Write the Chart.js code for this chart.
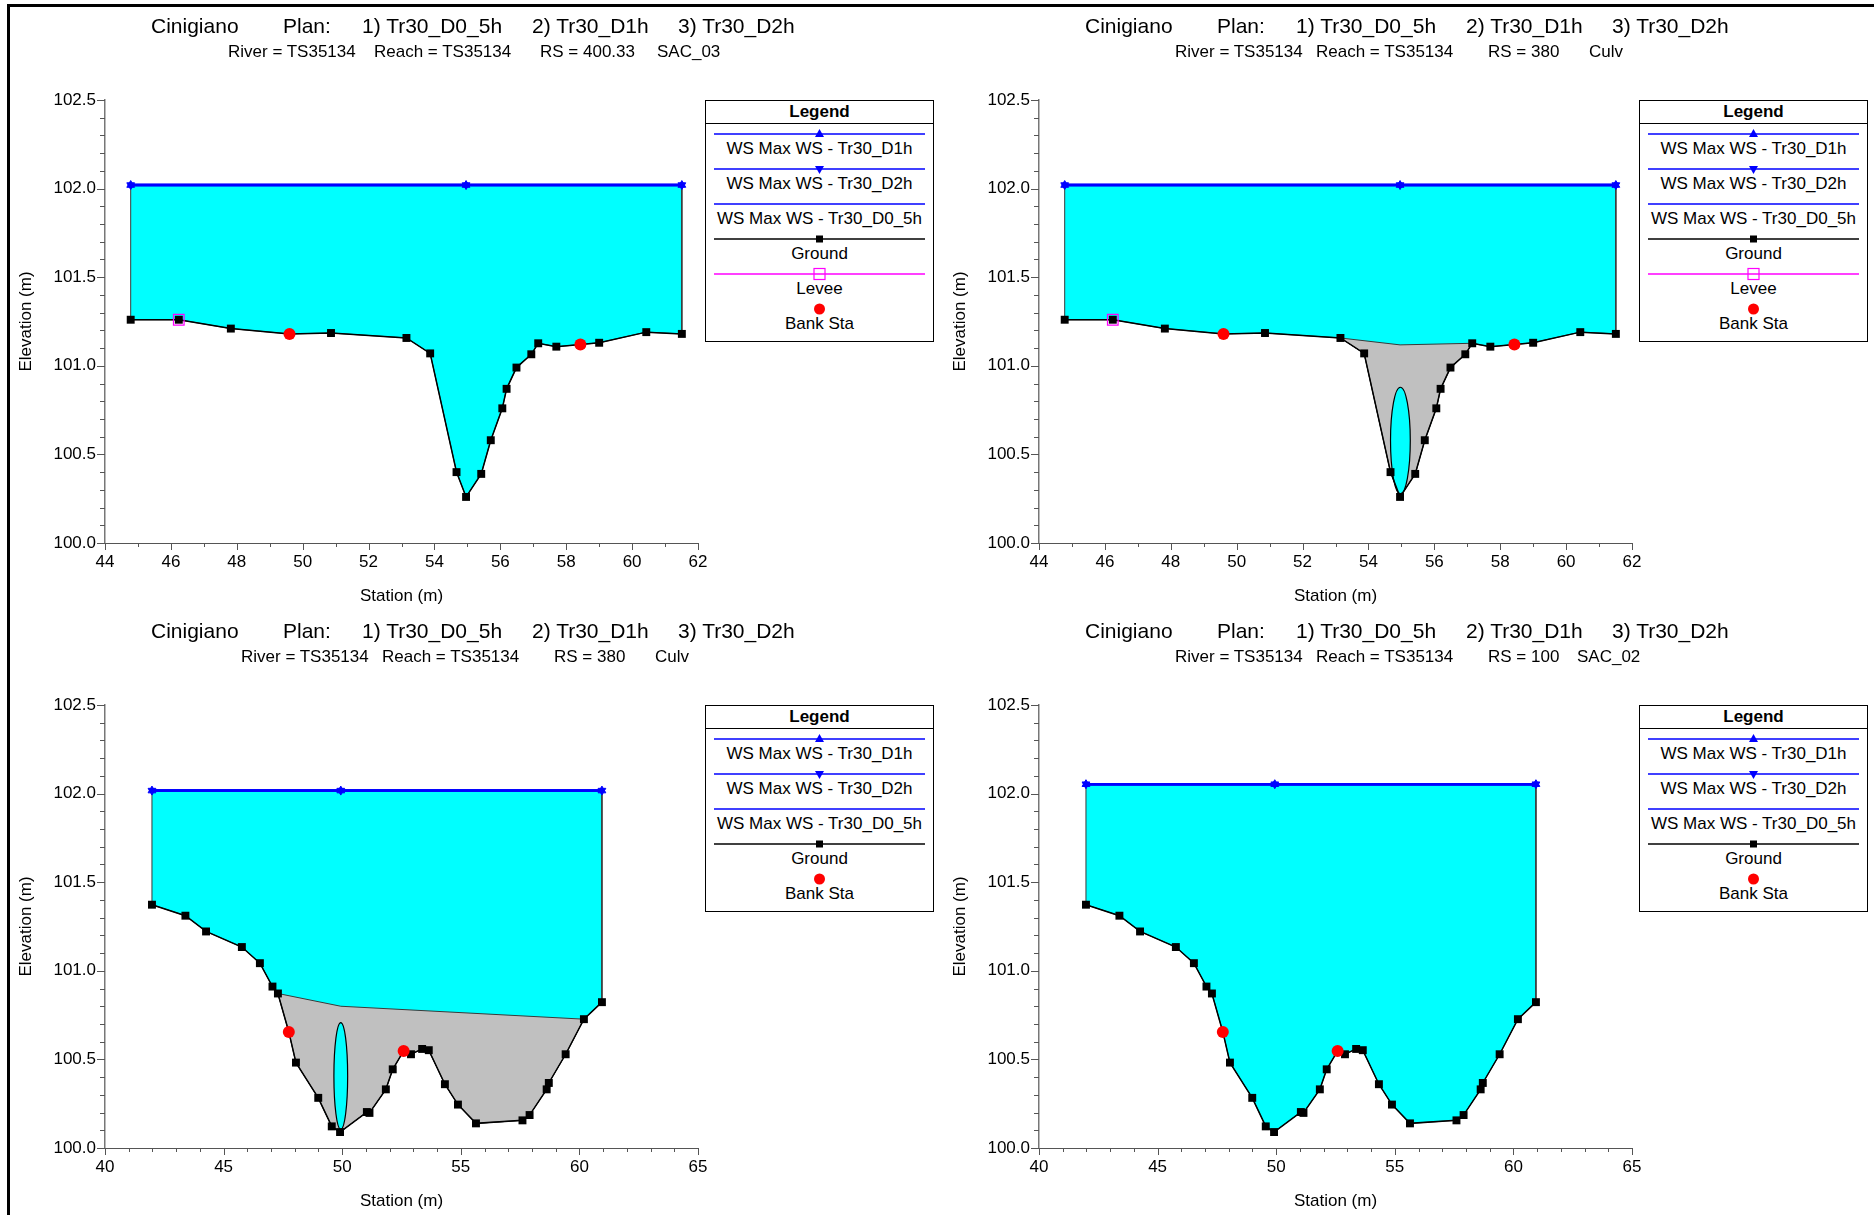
<!DOCTYPE html>
<html>
<head>
<meta charset="utf-8">
<script src="https://cdn.jsdelivr.net/npm/chart.js@4.4.1/dist/chart.umd.min.js"></script>
<style>
html,body{margin:0;padding:0;background:#fff;width:1874px;height:1215px;overflow:hidden;font-family:"Liberation Sans",Arial,sans-serif;color:#000;}
.frame{position:absolute;left:7px;top:4px;width:1900px;height:1300px;border-top:3px solid #000;border-left:3px solid #000;pointer-events:none;}
.panel{position:absolute;width:937px;height:607px;}
.panel canvas{position:absolute;left:0;top:0;}
.t{position:absolute;white-space:pre;font-size:21px;line-height:24px;top:14px;}
.s{position:absolute;white-space:pre;font-size:17px;line-height:20px;top:42px;}
.legend{position:absolute;border:1px solid #000;background:#fff;box-sizing:border-box;}
.legend .hd{position:absolute;left:0;top:0;width:100%;height:22px;line-height:22px;text-align:center;font-weight:bold;font-size:17px;border-bottom:1px solid #000;}
.legend .lt{position:absolute;left:0;width:100%;height:20px;line-height:20px;text-align:center;font-size:17px;white-space:pre;}
.legend svg{position:absolute;left:0;}
</style>
</head>
<body>
<div class="frame"></div>
<script>
// ---------------- DATA ----------------
const titleParts = ["Cinigiano", "Plan:", "1) Tr30_D0_5h", "2) Tr30_D1h", "3) Tr30_D2h"];
const subtitle1 = ["River = TS35134", "Reach = TS35134", "RS = 400.33", "SAC_03"];
const subtitle2 = ["River = TS35134", "Reach = TS35134", "RS = 380", "Culv"];
const subtitle3 = ["River = TS35134", "Reach = TS35134", "RS = 380", "Culv"];
const subtitle4 = ["River = TS35134", "Reach = TS35134", "RS = 100", "SAC_02"];

const legendLabels = ["WS Max WS - Tr30_D1h", "WS Max WS - Tr30_D2h", "WS Max WS - Tr30_D0_5h", "Ground", "Levee", "Bank Sta"];
const xAxisTitle = "Station (m)";
const yAxisTitle = "Elevation (m)";

// Cross section A (RS 400.33 and RS 380 upstream face)
const groundStaA = [44.78, 46.24, 47.82, 49.60, 50.86, 53.15, 53.87, 54.67, 54.96, 55.42, 55.71, 56.06, 56.19, 56.49, 56.94, 57.15, 57.70, 58.43, 59.00, 60.43, 61.51];
const groundElA  = [101.26, 101.26, 101.21, 101.18, 101.185, 101.157, 101.07, 100.40, 100.26, 100.39, 100.58, 100.76, 100.87, 100.99, 101.065, 101.127, 101.108, 101.12, 101.13, 101.19, 101.18];
const bankStaA = [49.60, 58.43];
const bankElA  = [101.18, 101.12];
const leveeStaA = [46.24];
const leveeElA  = [101.26];
const wsStaA = [44.78, 54.96, 61.51];
const wsElP1_D05 = [102.02, 102.02, 102.02];
const wsElP1_D1  = [102.02, 102.02, 102.02];
const wsElP1_D2  = [102.02, 102.02, 102.02];
const wsElP2_D05 = [102.02, 102.02, 102.02];
const wsElP2_D1  = [102.02, 102.02, 102.02];
const wsElP2_D2  = [102.02, 102.02, 102.02];
// culvert deck / opening, upstream face
const deckStaA = [53.15, 54.96, 57.15];
const deckElA  = [101.157, 101.118, 101.127];
const culvStaA = [54.97];
const culvSpanA = [0.60];
const culvInvA = [100.277];
const culvTopA = [100.879];

// Cross section B (RS 380 downstream face and RS 100)
const groundStaB = [41.98, 43.39, 44.26, 45.77, 46.53, 47.06, 47.29, 47.75, 48.05, 48.99, 49.56, 49.91, 51.04, 51.15, 51.84, 52.13, 52.59, 52.90, 53.37, 53.65, 54.33, 54.88, 55.64, 57.60, 57.90, 58.62, 58.71, 59.42, 60.19, 60.95];
const groundElB  = [101.373, 101.311, 101.222, 101.134, 101.043, 100.911, 100.872, 100.655, 100.482, 100.283, 100.122, 100.090, 100.203, 100.198, 100.331, 100.444, 100.548, 100.529, 100.559, 100.552, 100.360, 100.245, 100.139, 100.156, 100.186, 100.331, 100.367, 100.529, 100.727, 100.823];
const bankStaB = [47.75, 52.59];
const bankElB  = [100.655, 100.548];
const wsStaB = [41.98, 49.94, 60.95];
const wsElP3_D05 = [102.017, 102.017, 102.017];
const wsElP3_D1  = [102.017, 102.017, 102.017];
const wsElP3_D2  = [102.017, 102.017, 102.017];
const wsElP4_D05 = [102.053, 102.053, 102.053];
const wsElP4_D1  = [102.053, 102.053, 102.053];
const wsElP4_D2  = [102.053, 102.053, 102.053];
const deckStaB = [47.29, 49.94, 60.19];
const deckElB  = [100.872, 100.800, 100.727];
const culvStaB = [49.94];
const culvSpanB = [0.58];
const culvInvB = [100.105];
const culvTopB = [100.708];

// ---------------- LAYOUT ----------------
const panelPos = [[0, 0], [934, 0], [0, 605], [934, 605]];
const titleLefts = [151, 283, 362, 532, 678];
const subLefts = [[228, 374, 540, 657], [241, 382, 554, 655], [241, 382, 554, 655], [241, 382, 554, 643]];

// ---------------- HELPERS ----------------
Chart.defaults.font.family = "'Liberation Sans', Arial, sans-serif";
Chart.defaults.font.size = 17;
Chart.defaults.color = '#000';

function pts(xs, ys) { return xs.map((x, i) => ({x: x, y: ys[i]})); }
function waterPolygon(wsSta, wsEl, gSta, gEl) {
  const n = wsSta.length;
  const p = [{x: wsSta[0], y: wsEl[0]}, {x: wsSta[n - 1], y: wsEl[n - 1]}];
  for (let i = gSta.length - 1; i >= 0; i--) p.push({x: gSta[i], y: gEl[i]});
  p.push({x: wsSta[0], y: wsEl[0]});
  return p;
}
function deckPolygon(dSta, dEl, gSta, gEl) {
  const p = pts(dSta, dEl);
  const a = dSta[0], b = dSta[dSta.length - 1];
  for (let i = gSta.length - 1; i >= 0; i--) if (gSta[i] > a && gSta[i] < b) p.push({x: gSta[i], y: gEl[i]});
  p.push({x: dSta[0], y: dEl[0]});
  return p;
}

const tickPlugin = {
  id: 'hecTicks',
  afterDraw(chart) {
    const ctx = chart.ctx;
    const xs = chart.scales.x, ys = chart.scales.y;
    ctx.save();
    ctx.strokeStyle = '#555';
    ctx.lineWidth = 1;
    xs.ticks.forEach(t => {
      const px = Math.round(xs.getPixelForValue(t.value)) + 0.5;
      const len = t.label !== '' ? 7 : 4;
      ctx.beginPath(); ctx.moveTo(px, xs.top); ctx.lineTo(px, xs.top + len); ctx.stroke();
    });
    ys.ticks.forEach(t => {
      const py = Math.round(ys.getPixelForValue(t.value)) + 0.5;
      const len = t.label !== '' ? 8 : 5;
      ctx.beginPath(); ctx.moveTo(ys.right, py); ctx.lineTo(ys.right - len, py); ctx.stroke();
    });
    ctx.restore();
  }
};
const culvertPlugin = {
  id: 'culvert',
  afterDatasetDraw(chart, args) {
    const ds = chart.data.datasets[args.index];
    if (!ds.culvert) return;
    const c = ds.culvert, xs = chart.scales.x, ys = chart.scales.y;
    const ctx = chart.ctx;
    for (let i = 0; i < c.sta.length; i++) {
      const cx = xs.getPixelForValue(c.sta[i]);
      const rx = Math.abs(xs.getPixelForValue(c.sta[i] + c.span[i] / 2) - cx);
      const cy = ys.getPixelForValue((c.inv[i] + c.top[i]) / 2);
      const ry = Math.abs(ys.getPixelForValue(c.top[i]) - cy);
      ctx.save();
      ctx.beginPath();
      ctx.ellipse(cx, cy, rx, ry, 0, 0, Math.PI * 2);
      ctx.fillStyle = '#00ffff';
      ctx.fill();
      ctx.strokeStyle = '#000';
      ctx.lineWidth = 1.2;
      ctx.stroke();
      ctx.restore();
    }
  }
};

function legendSvg(kind) {
  const y = 7;
  const line = (col) => `<line x1="8" y1="${y}" x2="219" y2="${y}" stroke="${col}" stroke-width="1.5"/>`;
  const cx = 113.5;
  if (kind === 0) return line('#0000ff') + `<polygon points="${cx},${y - 5} ${cx - 4.5},${y + 3} ${cx + 4.5},${y + 3}" fill="#0000ff"/>`;
  if (kind === 1) return line('#0000ff') + `<polygon points="${cx},${y + 5} ${cx - 4.5},${y - 3} ${cx + 4.5},${y - 3}" fill="#0000ff"/>`;
  if (kind === 2) return line('#0000ff');
  if (kind === 3) return line('#000') + `<rect x="${cx - 3.5}" y="${y - 3.5}" width="7" height="7" fill="#000"/>`;
  if (kind === 4) return line('#ff00ff') + `<rect x="${cx - 5.5}" y="${y - 5.5}" width="11" height="11" fill="none" stroke="#ff00ff" stroke-width="1.2"/>`;
  return `<circle cx="${cx}" cy="${y}" r="5.5" fill="#ff0000"/>`;
}
function buildLegend(parent, kinds) {
  const box = document.createElement('div');
  box.className = 'legend';
  const n = kinds.length;
  box.style.left = '705px';
  box.style.top = '100px';
  box.style.width = '229px';
  box.style.height = Math.round(33 + 35 * (n - 1) + 15.5 + 18) + 'px';
  let html = '<div class="hd">Legend</div>';
  kinds.forEach((k, i) => {
    const ly = 32.5 + 35 * i;
    html += `<svg width="227" height="14" style="top:${ly - 7}px">${legendSvg(k)}</svg>`;
    html += `<div class="lt" style="top:${ly + 15.5 - 10}px">${legendLabels[k]}</div>`;
  });
  box.innerHTML = html;
  parent.appendChild(box);
}

function makePanel(idx, cfg) {
  const p = document.createElement('div');
  p.className = 'panel';
  p.style.left = panelPos[idx][0] + 'px';
  p.style.top = panelPos[idx][1] + 'px';
  document.body.appendChild(p);
  const cv = document.createElement('canvas');
  cv.width = 937; cv.height = 607;
  cv.style.width = '937px'; cv.style.height = '607px';
  p.appendChild(cv);
  titleParts.forEach((s, i) => {
    const d = document.createElement('div'); d.className = 't'; d.textContent = s;
    d.style.left = titleLefts[i] + 'px'; p.appendChild(d);
  });
  cfg.sub.forEach((s, i) => {
    const d = document.createElement('div'); d.className = 's'; d.textContent = s;
    d.style.left = subLefts[idx][i] + 'px'; p.appendChild(d);
  });
  buildLegend(p, cfg.levee ? [0, 1, 2, 3, 4, 5] : [0, 1, 2, 3, 5]);

  const datasets = [];
  datasets.push({label: 'water', data: waterPolygon(cfg.wsSta, cfg.ws1, cfg.gSta, cfg.gEl), showLine: true, fill: 'shape',
    backgroundColor: '#00ffff', borderColor: '#3a3a3a', borderWidth: 1, pointRadius: 0, order: 10});
  if (cfg.deck) {
    datasets.push({label: 'deck', data: deckPolygon(cfg.deck[0], cfg.deck[1], cfg.gSta, cfg.gEl), showLine: true, fill: 'shape',
      backgroundColor: '#c0c0c0', borderColor: '#3a3a3a', borderWidth: 1, pointRadius: 0, order: 9, culvert: cfg.culvert});
  }
  datasets.push({label: 'Ground', data: pts(cfg.gSta, cfg.gEl), showLine: true, borderColor: '#000', borderWidth: 1.5,
    pointStyle: 'rect', pointRadius: 5.6, pointBackgroundColor: '#000', pointBorderWidth: 0, order: 5});
  datasets.push({label: 'WS Max WS - Tr30_D0_5h', data: pts(cfg.wsSta, cfg.ws05), showLine: true, borderColor: '#0000ff', borderWidth: 2.5, pointRadius: 0, order: 4});
  datasets.push({label: 'WS Max WS - Tr30_D2h', data: pts(cfg.wsSta, cfg.ws2), showLine: true, borderColor: '#0000ff', borderWidth: 2.5,
    pointStyle: 'triangle', pointRotation: 180, pointRadius: 4.5, pointBackgroundColor: '#0000ff', pointBorderColor: '#0000ff', pointBorderWidth: 1, order: 3});
  datasets.push({label: 'WS Max WS - Tr30_D1h', data: pts(cfg.wsSta, cfg.ws1), showLine: true, borderColor: '#0000ff', borderWidth: 2.5,
    pointStyle: 'triangle', pointRadius: 4.5, pointBackgroundColor: '#0000ff', pointBorderColor: '#0000ff', pointBorderWidth: 1, order: 2});
  if (cfg.levee) {
    datasets.push({label: 'Levee', data: pts(cfg.levee[0], cfg.levee[1]), showLine: false, pointStyle: 'rect', pointRadius: 7.5,
      pointBackgroundColor: 'rgba(0,0,0,0)', pointBorderColor: '#ff00ff', pointBorderWidth: 1.2, order: 1});
  }
  datasets.push({label: 'Bank Sta', data: pts(cfg.bank[0], cfg.bank[1]), showLine: false, pointStyle: 'circle', pointRadius: 6,
    pointBackgroundColor: '#ff0000', pointBorderWidth: 0, order: 0});

  new Chart(cv, {
    type: 'scatter',
    data: {datasets: datasets},
    options: {
      responsive: false, animation: false, events: [],
      layout: {padding: {left: 0, right: 239, top: 100, bottom: 0}},
      plugins: {legend: {display: false}, tooltip: {enabled: false}, title: {display: false}},
      elements: {line: {tension: 0}},
      scales: {
        x: {
          type: 'linear', min: cfg.xMin, max: cfg.xMax,
          afterFit: s => { s.height = 64; },
          grid: {display: true, drawOnChartArea: false, drawTicks: false},
          border: {display: true, color: '#555', width: 1},
          ticks: {stepSize: 1, autoSkip: false, maxRotation: 0, padding: 9, color: '#000', font: {size: 17},
            callback: v => (Math.abs(v / cfg.xLab - Math.round(v / cfg.xLab)) < 1e-6 ? String(Math.round(v)) : '')},
          title: {display: true, text: xAxisTitle, color: '#000', font: {size: 17, lineHeight: 1.2}, padding: {top: 0, bottom: 0}}
        },
        y: {
          type: 'linear', min: 100, max: 102.5,
          afterFit: s => { s.width = 105; },
          grid: {display: true, drawOnChartArea: false, drawTicks: false},
          border: {display: true, color: '#777', width: 1.5},
          ticks: {stepSize: 0.1, autoSkip: false, padding: 9, color: '#000', font: {size: 17},
            callback: v => (Math.abs(v * 2 - Math.round(v * 2)) < 1e-6 ? Number(v).toFixed(1) : '')},
          title: {display: true, text: yAxisTitle, color: '#000', font: {size: 17, lineHeight: 1.2}, padding: {top: 16, bottom: 0}}
        }
      }
    },
    plugins: [tickPlugin, culvertPlugin]
  });
}

makePanel(0, {sub: subtitle1, gSta: groundStaA, gEl: groundElA, wsSta: wsStaA, ws05: wsElP1_D05, ws1: wsElP1_D1, ws2: wsElP1_D2,
  levee: [leveeStaA, leveeElA], bank: [bankStaA, bankElA], xMin: 44, xMax: 62, xLab: 2});
makePanel(1, {sub: subtitle2, gSta: groundStaA, gEl: groundElA, wsSta: wsStaA, ws05: wsElP2_D05, ws1: wsElP2_D1, ws2: wsElP2_D2,
  levee: [leveeStaA, leveeElA], bank: [bankStaA, bankElA], deck: [deckStaA, deckElA],
  culvert: {sta: culvStaA, span: culvSpanA, inv: culvInvA, top: culvTopA}, xMin: 44, xMax: 62, xLab: 2});
makePanel(2, {sub: subtitle3, gSta: groundStaB, gEl: groundElB, wsSta: wsStaB, ws05: wsElP3_D05, ws1: wsElP3_D1, ws2: wsElP3_D2,
  bank: [bankStaB, bankElB], deck: [deckStaB, deckElB],
  culvert: {sta: culvStaB, span: culvSpanB, inv: culvInvB, top: culvTopB}, xMin: 40, xMax: 65, xLab: 5});
makePanel(3, {sub: subtitle4, gSta: groundStaB, gEl: groundElB, wsSta: wsStaB, ws05: wsElP4_D05, ws1: wsElP4_D1, ws2: wsElP4_D2,
  bank: [bankStaB, bankElB], xMin: 40, xMax: 65, xLab: 5});
</script>
</body>
</html>
